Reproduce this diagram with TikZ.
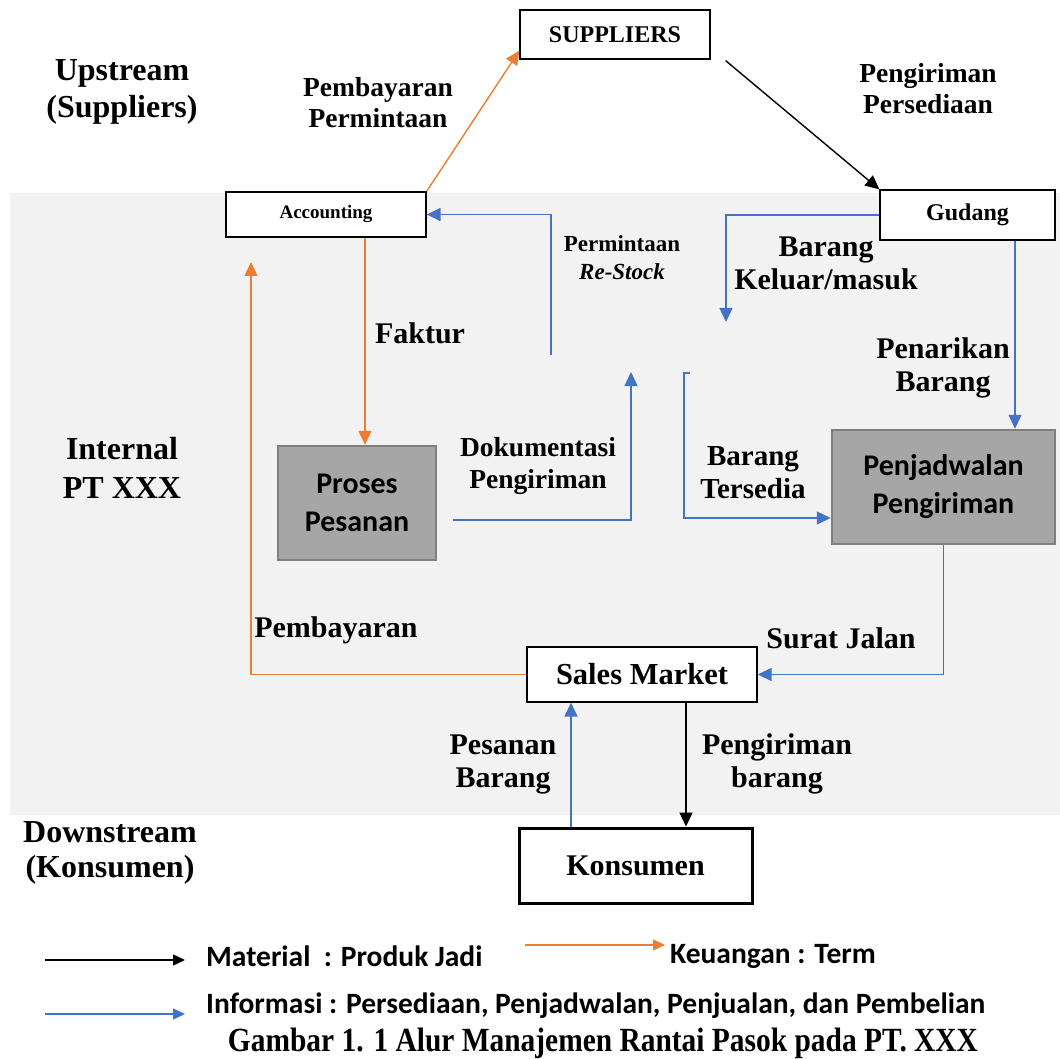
\documentclass[tikz,border=0pt]{standalone}
\usepackage{fontspec}
\setmainfont{Liberation Serif}
\newfontfamily\calfont{Carlito}
\usetikzlibrary{arrows.meta}
\definecolor{bgc}{RGB}{242,242,242}
\definecolor{orn}{RGB}{237,125,49}
\definecolor{blu}{RGB}{68,114,196}
\definecolor{gbox}{RGB}{166,166,166}
\definecolor{gbrd}{RGB}{127,127,127}
\begin{document}
\begin{tikzpicture}[x=1pt,y=-1pt,
  wbox/.style={draw=black, fill=white, line width=1.3pt, inner sep=0pt, align=center},
  gbx/.style={draw=gbrd, fill=gbox, line width=2.5pt, inner sep=0pt, align=center,
    font=\calfont\bfseries\fontsize{30}{38}\selectfont},
  lab/.style={font=\bfseries\fontsize{29}{33}\selectfont, align=center, inner sep=0pt},
  con/.style={line width=1.4pt, -{Triangle[length=14pt,width=13pt]}},
  bc/.style={con, color=blu},
  oc/.style={con, color=orn},
  kc/.style={con, color=black},
  leg/.style={line width=1.4pt, -{Triangle[length=12pt,width=11pt]}},
  legt/.style={anchor=west, inner sep=0pt, font=\calfont\bfseries\fontsize{29.5}{34}\selectfont}
]
\useasboundingbox (0,0) rectangle (1060,1059);
\fill[bgc] (10,193) rectangle (1060,815);

% boxes
\node[wbox, minimum width=190pt, minimum height=49pt, font=\bfseries\fontsize{24}{28}\selectfont] (sup) at (615,34.5) {SUPPLIERS};
\node[wbox, minimum width=200pt, minimum height=45pt, font=\bfseries\fontsize{19}{22}\selectfont] (acc) at (326,214.5) {Accounting};
\node[wbox, minimum width=175pt, minimum height=50pt, font=\bfseries\fontsize{24}{28}\selectfont] (gud) at (967.5,215) {Gudang};
\node[gbx, minimum width=158pt, minimum height=114pt] (pro) at (357,503) {Proses\\Pesanan};
\node[gbx, minimum width=223pt, minimum height=114pt] (pen) at (943.5,487) {Penjadwalan\\Pengiriman};
\node[wbox, minimum width=230pt, minimum height=55pt, font=\bfseries\fontsize{30.5}{34}\selectfont] (sal) at (642,674.5) {Sales Market};
\node[wbox, line width=3pt, minimum width=233pt, minimum height=75pt, font=\bfseries\fontsize{30}{34}\selectfont] (kon) at (635.5,865.5) {Konsumen};

% labels
\node[lab, font=\bfseries\fontsize{32}{37}\selectfont] (up) at (122,92) {Upstream\\(Suppliers)};
\node[lab, font=\bfseries\fontsize{27.5}{31}\selectfont] (pp) at (378,103) {Pembayaran\\Permintaan};
\node[lab, font=\bfseries\fontsize{27.5}{31}\selectfont] (pg) at (928,89) {Pengiriman\\Persediaan};
\node[lab, font=\bfseries\fontsize{23}{28}\selectfont] (rs) at (622,258) {Permintaan\\\textit{Re-Stock}};
\node[lab, font=\bfseries\fontsize{30}{33}\selectfont] (bk) at (826,263) {Barang\\Keluar/masuk};
\node[lab, font=\bfseries\fontsize{30}{33}\selectfont] (fk) at (420,333) {Faktur};
\node[lab, font=\bfseries\fontsize{32}{39}\selectfont] (int) at (122,468) {Internal\\PT XXX};
\node[lab, font=\bfseries\fontsize{27.5}{32}\selectfont] (dk) at (538,466) {Dokumentasi\\Pengiriman};
\node[lab] (bt) at (753,473) {Barang\\Tersedia};
\node[lab, font=\bfseries\fontsize{30}{33}\selectfont] (pb) at (943,368) {Penarikan\\Barang};
\node[lab, font=\bfseries\fontsize{30}{33}\selectfont] (pm) at (336,630) {Pembayaran};
\node[lab, font=\bfseries\fontsize{30}{33}\selectfont] (sj) at (841,638) {Surat Jalan};
\node[lab, font=\bfseries\fontsize{30}{33}\selectfont] (ps) at (503,764) {Pesanan\\Barang};
\node[lab, font=\bfseries\fontsize{30}{33}\selectfont] (pk) at (777,764) {Pengiriman\\barang};
\node[lab, font=\bfseries\fontsize{32}{35}\selectfont] (dw) at (110,853) {Downstream\\(Konsumen)};

% connector helper coordinates
\coordinate (bkend) at (726,322);
\coordinate (g1) at ([xshift=47.5pt]gud.south);
\coordinate (a1) at ([xshift=39pt]acc.south);
\coordinate (r0) at (551,355);
\coordinate (d0) at (453,520);
\coordinate (d1) at (631,372);
\coordinate (t0) at (690,373);
\coordinate (t1) at (684,373);
\coordinate (a2) at (251,262);
\coordinate (k1) at ([xshift=-64.5pt]kon.north);
\coordinate (s1) at ([xshift=44pt]sal.south);

% connectors
\draw[oc] (acc.north east) -- ([yshift=9pt]sup.south west);
\draw[kc] ([xshift=15pt,yshift=-1pt]sup.south east) -- (gud.north west);
\draw[bc] (gud.west) -| (bkend);
\draw[bc] (g1) -- (g1 |- pen.north);
\draw[oc] (a1) -- (a1 |- pro.north);
\draw[bc] (r0) |- (acc.east);
\draw[bc] (d0) -| (d1);
\draw[bc] (t0) -- (t1) |- ([yshift=-31pt]pen.west);
\draw[bc] (pen.south) |- (sal.east);
\draw[oc] (sal.west) -| (a2);
\draw[bc] (k1) -- (k1 |- sal.south);
\draw[kc] (s1) -- (s1 |- kon.north);

% legend
\coordinate (l1a) at (45,960); \coordinate (l1b) at (185,960);
\coordinate (l2a) at (525,945); \coordinate (l2b) at (665,945);
\coordinate (l3a) at (45,1014); \coordinate (l3b) at (185,1014);
\draw[leg, color=black] (l1a) -- (l1b);
\draw[leg, color=orn] (l2a) -- (l2b);
\draw[leg, color=blu] (l3a) -- (l3b);
\node[legt] (lt1) at (206,956) {Material\ \ : Produk Jadi};
\node[legt] (lt2) at (670,956) {Keuangan : Term};
\node[legt] (lt3) at (206,1006) {\resizebox{779pt}{!}{Informasi : Persediaan, Penjadwalan, Penjualan, dan Pembelian}};
\node[inner sep=0pt, anchor=base] (cap) at (603,1051) {\scalebox{1}[1.15]{\resizebox{750pt}{!}{\bfseries\fontsize{30}{34}\selectfont Gambar 1. 1 Alur Manajemen Rantai Pasok pada PT. XXX}}};
\end{tikzpicture}
\end{document}
